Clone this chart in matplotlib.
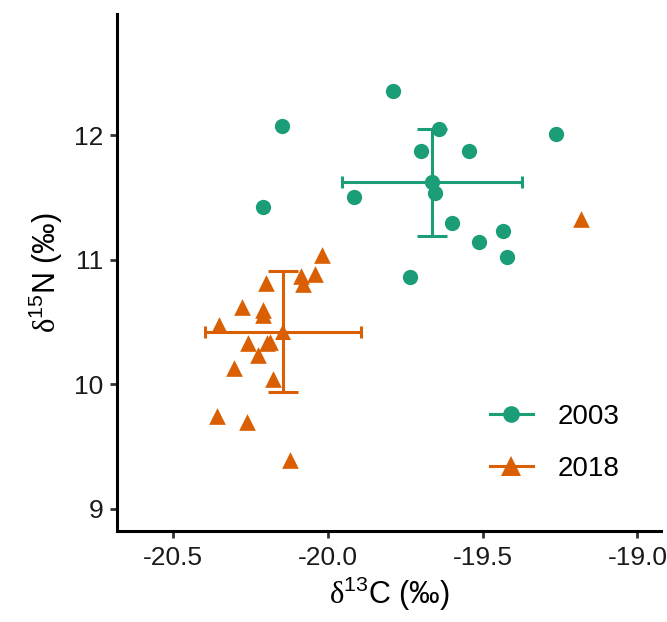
import matplotlib
matplotlib.use("Agg")
import matplotlib.pyplot as plt

plt.rcParams["font.family"] = ["Liberation Sans", "DejaVu Sans"]
plt.rcParams["mathtext.fontset"] = "custom"
plt.rcParams["mathtext.rm"] = "Liberation Serif"
plt.rcParams["mathtext.sf"] = "Liberation Sans"

GREEN = "#1b9e77"
ORANGE = "#d95f02"

# 2003 samples (d13C, d15N)
c_2003 = [-19.791, -20.150, -19.643, -19.263, -19.700, -19.543, -19.653,
          -19.916, -20.210, -19.600, -19.435, -19.512, -19.423, -19.734]
n_2003 = [12.353, 12.070, 12.048, 12.008, 11.872, 11.872, 11.532,
          11.502, 11.420, 11.296, 11.227, 11.144, 11.024, 10.860]

# 2018 samples
c_2018 = [-19.181, -20.020, -20.042, -20.088, -20.080, -20.200, -20.278,
          -20.209, -20.211, -20.352, -20.260, -20.198, -20.186, -20.225,
          -20.304, -20.177, -20.360, -20.261, -20.123]
n_2018 = [11.330, 11.037, 10.884, 10.868, 10.804, 10.815, 10.617,
          10.596, 10.555, 10.475, 10.333, 10.333, 10.340, 10.234,
          10.128, 10.040, 9.745, 9.700, 9.390]

# group means and SD
years = ["2003", "2018"]
mean_c = [-19.665, -20.146]
mean_n = [11.620, 10.423]
sd_c = [0.291, 0.252]
sd_n = [0.428, 0.488]
colors = [GREEN, ORANGE]
markers = ["o", "^"]

fig = plt.figure(figsize=(6.67, 6.22), dpi=100)
ax = fig.add_axes([0.1754, 0.146, 0.8156, 0.8315])

ax.scatter(c_2003, n_2003, s=11 ** 2, marker="o", color=GREEN,
           linewidths=0, zorder=3)
ax.scatter(c_2018, n_2018, s=12 ** 2, marker="^", color=ORANGE,
           linewidths=0, zorder=3)

for i in range(2):
    ax.errorbar(mean_c[i], mean_n[i], yerr=sd_n[i], fmt="none",
                ecolor=colors[i], elinewidth=2.2, capsize=11, capthick=2.2,
                zorder=2)
    ax.errorbar(mean_c[i], mean_n[i], xerr=sd_c[i], fmt="none",
                ecolor=colors[i], elinewidth=2.2, capsize=4.5, capthick=2.2,
                zorder=2)
    ax.plot(mean_c[i], mean_n[i], marker=markers[i], color=colors[i],
            ms=11 if i == 0 else 12, mew=0, zorder=4)

handles = [ax.plot([], [], color=colors[i], lw=2.2, marker=markers[i],
                   ms=12 if i == 0 else 14, mew=0)[0] for i in range(2)]
ax.legend(handles, years, loc="center", bbox_to_anchor=(0.805, 0.171),
          frameon=False, fontsize=20, handlelength=1.55, handletextpad=0.9,
          labelspacing=0.95)

ax.set_xlim(-20.682, -18.924)
ax.set_ylim(8.822, 12.971)
ax.set_xticks([-20.5, -20.0, -19.5, -19.0])
ax.set_xticklabels(["-20.5", "-20.0", "-19.5", "-19.0"])
ax.set_yticks([9, 10, 11, 12])

for side in ["top", "right"]:
    ax.spines[side].set_visible(False)
for side in ["left", "bottom"]:
    ax.spines[side].set_linewidth(2.2)
ax.tick_params(axis="both", labelsize=19, width=2.0, length=5, color="#333333",
               labelcolor="#1a1a1a")
ax.tick_params(axis="x", pad=6)
ax.tick_params(axis="y", pad=5)

ax.set_xlabel(r"$\mathrm{\delta}^{\mathsf{13}}$C (‰)", fontsize=22, labelpad=3)
ax.set_ylabel(r"$\mathrm{\delta}^{\mathsf{15}}$N (‰)", fontsize=22, labelpad=6)

fig.savefig("out.png", dpi=100)
